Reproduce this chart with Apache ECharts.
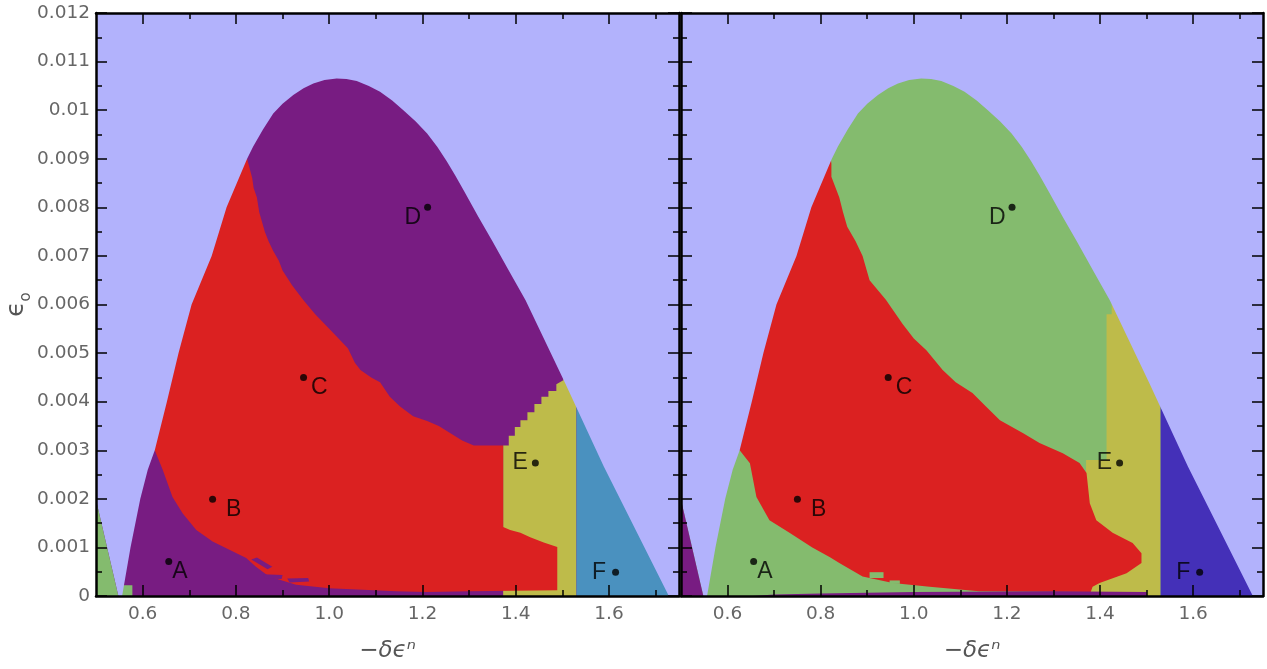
<!DOCTYPE html>
<html><head><meta charset="utf-8">
<script src="https://cdn.jsdelivr.net/npm/echarts@6/dist/echarts.min.js"></script>
<style>html,body{margin:0;padding:0;background:#fff}#c{width:1267px;height:669px}</style>
</head><body><div id="c"></div>
<script>
// ---------- data ----------
const xTicksMajor = [0.6, 0.8, 1.0, 1.2, 1.4, 1.6];
const xTicksMinor = [0.7, 0.9, 1.1, 1.3, 1.5, 1.7];
const yTickLabels = ['0','0.001','0.002','0.003','0.004','0.005','0.006','0.007','0.008','0.009','0.01','0.011','0.012'];

const pointNames = ['A','B','C','D','E','F'];
const pointX = [0.656, 0.750, 0.945, 1.211, 1.442, 1.614];
const pointY = [0.00071, 0.00199, 0.0045, 0.0080, 0.00274, 0.00049];

// outer boundary of the dome (left foot -> peak -> right foot)
const domeEdge = [[0.556,0],[0.574,0.001],[0.595,0.002],[0.611,0.0026],[0.626,0.003],[0.652,0.004],[0.677,0.005],
  [0.705,0.006],[0.748,0.007],[0.780,0.008],[0.824,0.009],[0.837,0.00925],[0.858,0.0096],[0.880,0.00993],
  [0.900,0.01013],[0.923,0.01031],[0.945,0.01045],[0.966,0.01055],[0.990,0.01062],[1.016,0.01065],[1.037,0.01064],
  [1.059,0.0106],[1.085,0.0105],[1.109,0.01038],[1.135,0.0102],[1.159,0.0100],[1.185,0.00977],[1.210,0.00952],
  [1.232,0.00924],[1.252,0.00895],[1.270,0.00866],[1.290,0.00832],[1.320,0.0078],[1.350,0.0073],[1.385,0.0067],
  [1.421,0.00609],[1.506,0.00438],[1.589,0.00266],[1.725,0.00006],[1.728,0]];
const skyOuter = [[1.75,0],[1.75,0.012],[0.5,0.012],[0.5,0.00198],[0.548,0]];
const cornerTri = [[0.5,0],[0.5,0.00198],[0.548,0]];

// left panel regions
const redLeft = [[0.626,0.003],[0.6,0.003],[0.6,0.0095],[0.815,0.0095],[0.824,0.0090],[0.835,0.0086],[0.838,0.0084],
  [0.845,0.0082],[0.850,0.0079],[0.856,0.0077],[0.862,0.0075],[0.870,0.0073],[0.880,0.0071],[0.892,0.0069],[0.900,0.0067],
  [0.920,0.0064],[0.944,0.0061],[0.970,0.0058],[1.000,0.0055],[1.020,0.0053],[1.040,0.0051],[1.055,0.0048],[1.067,0.00465],
  [1.090,0.0045],[1.109,0.0044],[1.130,0.0041],[1.152,0.0039],[1.180,0.0037],[1.210,0.0036],[1.235,0.0035],[1.260,0.00335],
  [1.285,0.0032],[1.310,0.0031],[1.373,0.0031],
  [1.373,0.00142],[1.388,0.00136],[1.410,0.0013],[1.431,0.00121],[1.460,0.0011],[1.489,0.00101],[1.489,0.00012],
  [1.300,0.0001],[1.208,0.00008],[1.144,0.0001],[1.000,0.00016],[0.929,0.00023],[0.871,0.0004],[0.843,0.0006],
  [0.822,0.00078],[0.786,0.00095],[0.750,0.00112],[0.715,0.00136],[0.686,0.0017],[0.664,0.00204],[0.643,0.0026]];
const yellowLeft = [[1.373,0],[1.53,0],[1.53,0.0065],[1.505,0.0065],[1.502,0.00444],[1.487,0.00436],[1.487,0.00422],
  [1.470,0.00422],[1.470,0.0041],[1.455,0.0041],[1.455,0.00395],[1.440,0.00395],[1.440,0.00378],[1.425,0.00378],
  [1.425,0.00362],[1.410,0.00362],[1.410,0.00348],[1.398,0.00348],[1.398,0.0033],[1.385,0.0033],[1.385,0.0031],[1.373,0.0031]];
const blueBand = [[1.53,0],[1.75,0],[1.75,0.0065],[1.53,0.0065]];
const patchesLeft = [
  [[0.833,0.00075],[0.845,0.00079],[0.878,0.0006],[0.868,0.00055]],
  [[0.858,0.00045],[0.900,0.00043],[0.898,0.00035],[0.862,0.00036]],
  [[0.910,0.00036],[0.955,0.00037],[0.957,0.0003],[0.915,0.00028]]];
const blobLeft = [[0.555,0],[0.578,0],[0.578,0.00022],[0.556,0.00022]];

// right panel regions
const redRight = [[0.626,0.003],[0.6,0.003],[0.6,0.0095],[0.815,0.0095],[0.823,0.0089],[0.823,0.00863],[0.840,0.0082],
  [0.848,0.0079],[0.857,0.0076],[0.875,0.0073],[0.890,0.007],[0.905,0.0065],[0.940,0.0061],[0.976,0.0056],[1.000,0.0053],
  [1.027,0.00506],[1.062,0.00465],[1.090,0.0044],[1.126,0.00418],[1.155,0.0039],[1.185,0.00362],[1.235,0.00335],
  [1.270,0.00315],[1.320,0.00294],[1.356,0.00274],[1.371,0.00253],[1.378,0.00191],[1.392,0.00156],[1.427,0.0013],
  [1.470,0.00109],[1.489,0.00088],[1.489,0.00068],[1.457,0.00047],[1.399,0.00027],[1.384,0.00019],[1.380,0.00008],
  [1.140,0.0001],[1.034,0.00019],[0.955,0.00027],[0.890,0.0004],[0.840,0.00068],[0.820,0.0008],[0.782,0.001],
  [0.733,0.0013],[0.690,0.00156],[0.662,0.00204],[0.648,0.00273]];
const yellowRight = [[1.37,0],[1.53,0],[1.53,0.0065],[1.425,0.0065],[1.425,0.0058],[1.414,0.0058],[1.414,0.0028],[1.37,0.0028]];
const patchesRight = [
  [[0.905,0.00049],[0.935,0.00049],[0.935,0.00037],[0.905,0.00037]],
  [[0.948,0.00032],[0.970,0.00032],[0.970,0.00025],[0.948,0.00025]]];
const stripRight = [[0.655,0],[1.5,0],[1.5,0.00008],[1.3,0.0001],[1.0,0.00008],[0.8,0.00005],[0.7,0.00003]];

// ---------- styles ----------
const C = {lav:'#b2b2fc', purple:'#781c82', red:'#db2121', yellow:'#bebb4a', steel:'#4a91bf', green:'#84bb6e', indigo:'#4430b8'};
const labelCfg = {A:{position:'right',distance:0,offset:[0,10]}, B:{position:'right',distance:10,offset:[0,10]},
  C:{position:'right',distance:4,offset:[0,10]}, D:{position:'left',distance:3,offset:[0,10]},
  E:{position:'left',distance:4,offset:[0,0]}, F:{position:'left',distance:6,offset:[0,0]}};

const lineS = {color:'#000', width:2.5};
const tickS = {color:'#000', width:1.5};
const tickFont = {color:'#666', fontSize:18.5, fontFamily:'DejaVu Sans'};

function xAxes(gi){
  const base = {gridIndex:gi, type:'value', min:0.5, max:1.75, z:10, splitLine:{show:false}};
  return [
    Object.assign({}, base, {position:'bottom', axisLine:{show:true,onZero:false,lineStyle:lineS},
      axisTick:{show:true,inside:true,length:11,customValues:xTicksMajor,lineStyle:tickS},
      axisLabel:Object.assign({show:true,customValues:xTicksMajor,margin:9,formatter:v=>v.toFixed(1)},tickFont),
      name:'−δϵⁿ', nameLocation:'middle', nameGap:44,
      nameTextStyle:{fontSize:23, fontStyle:'italic', fontFamily:'DejaVu Sans', color:'#555'}}),
    Object.assign({}, base, {position:'bottom', axisLine:{show:false,onZero:false},
      axisTick:{show:true,inside:true,length:6,customValues:xTicksMinor,lineStyle:tickS}, axisLabel:{show:false}}),
    Object.assign({}, base, {position:'top', axisLine:{show:true,onZero:false,lineStyle:lineS},
      axisTick:{show:true,inside:true,length:11,customValues:xTicksMajor,lineStyle:tickS}, axisLabel:{show:false}}),
    Object.assign({}, base, {position:'top', axisLine:{show:false,onZero:false},
      axisTick:{show:true,inside:true,length:6,customValues:xTicksMinor,lineStyle:tickS}, axisLabel:{show:false}})
  ];
}
function yAxes(gi){
  const base = {gridIndex:gi, type:'value', min:0, max:0.012, interval:0.001, z:10,
    axisLine:{show:true,onZero:false,lineStyle:lineS},
    axisTick:{show:true,inside:true,length:11,lineStyle:tickS},
    minorTick:{show:true,splitNumber:2,length:6,lineStyle:tickS},
    splitLine:{show:false}, minorSplitLine:{show:false}};
  const left = Object.assign({}, base, {position:'left',
    axisLabel:Object.assign({show:gi===0,margin:6,formatter:v=>yTickLabels[Math.round(v*1000)]},tickFont)});
  if (gi===0) Object.assign(left, {name:'{e|ϵ}{o|o}', nameLocation:'middle', nameRotate:90, nameGap:66,
    nameTextStyle:{color:'#555', rich:{e:{fontSize:25, fontFamily:'DejaVu Sans', color:'#555', verticalAlign:'bottom'},
      o:{fontSize:15, fontFamily:'DejaVu Sans', color:'#555', verticalAlign:'bottom', padding:[0,0,-4,0]}}}});
  const right = Object.assign({}, base, {position:'right', axisLabel:{show:false}});
  return [left, right];
}

function poly(pts, color, gi){
  return {type:'custom', coordinateSystem:'cartesian2d', xAxisIndex:gi*4, yAxisIndex:gi*2,
    silent:true, animation:false, data:[pts[0]],
    renderItem:(params, api)=>({type:'polygon', shape:{points:pts.map(p=>api.coord(p))}, style:{fill:color}})};
}
function dots(gi){
  return {type:'scatter', xAxisIndex:gi*4, yAxisIndex:gi*2, z:5, symbolSize:7, animation:false, silent:true,
    itemStyle:{color:'#000'},
    data:pointNames.map((n,i)=>({name:n, value:[pointX[i],pointY[i]],
      label:Object.assign({show:true, formatter:'{b}', color:'#000', fontSize:23, fontFamily:'Liberation Sans'}, labelCfg[n])}))};
}

const series = [];
let zi = 2;
function add(s){ s.z = zi; zi += 0.01; series.push(s); }
// left panel
add(poly(yellowLeft, C.yellow, 0));
add(poly(blueBand, C.steel, 0));
add(poly(redLeft, C.red, 0));
patchesLeft.forEach(p=>add(poly(p, C.purple, 0)));
add(poly(blobLeft, C.green, 0));
add(poly(domeEdge.concat(skyOuter), C.lav, 0));
add(poly(cornerTri, C.green, 0));
// right panel
add(poly(yellowRight, C.yellow, 1));
add(poly(blueBand, C.indigo, 1));
add(poly(redRight, C.red, 1));
patchesRight.forEach(p=>add(poly(p, C.green, 1)));
add(poly(stripRight, C.purple, 1));
add(poly(domeEdge.concat(skyOuter), C.lav, 1));
add(poly(cornerTri, C.purple, 1));
series.push(dots(0), dots(1));

const chart = echarts.init(document.getElementById('c'), null, {renderer:'canvas'});
chart.setOption({
  animation:false,
  backgroundColor:'#fff',
  grid:[{left:96, top:13, width:583, height:583, show:true, backgroundColor:C.purple, borderWidth:0},
        {left:681, top:13, width:582, height:583, show:true, backgroundColor:C.green, borderWidth:0}],
  xAxis: xAxes(0).concat(xAxes(1)),
  yAxis: yAxes(0).concat(yAxes(1)),
  series: series
});
</script></body></html>
